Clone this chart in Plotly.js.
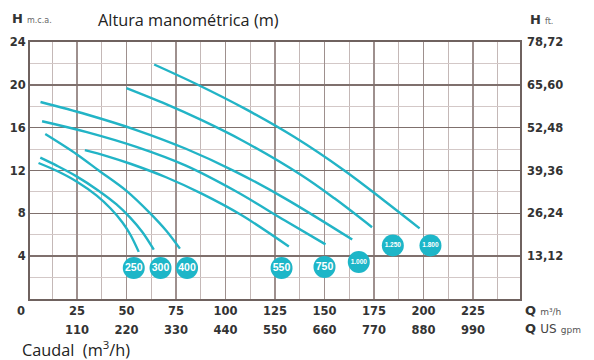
<!DOCTYPE html>
<html>
<head>
<meta charset="utf-8">
<script src="https://cdn.plot.ly/plotly-3.0.1.min.js"></script>
<style>html,body{margin:0;padding:0;background:#fff}#chart{width:594px;height:360px}</style>
</head>
<body>
<div id="chart"></div>
<script>
// Pump curves: flow Q (m3/h) vs head H (m.c.a.)
const q250 = [5.6, 15, 25, 35, 42, 48, 52, 56.2];
const h250 = [12.7, 11.95, 10.95, 9.65, 8.45, 7.15, 6.0, 4.4];
const q300 = [6.5, 15, 25, 35, 45, 52, 58, 63.8];
const h300 = [13.2, 12.43, 11.43, 10.23, 8.83, 7.57, 6.25, 4.6];
const q400 = [9, 25, 36, 50, 62, 70, 77];
const h400 = [15.4, 13.5, 12.0, 10.1, 8.0, 6.4, 4.7];
const q550 = [29, 40, 52, 70, 88, 108, 132];
const h550 = [13.9, 13.35, 12.63, 11.37, 9.84, 7.84, 4.9];
const q750 = [7.4, 30, 55, 80, 105, 130, 150.5];
const h750 = [16.6, 15.58, 14.2, 12.45, 10.08, 7.33, 5.1];
const q1000 = [6.6, 30, 55, 80, 105, 130, 164];
const h1000 = [18.4, 17.23, 15.78, 14.03, 11.9, 9.4, 5.55];
const q1250 = [50, 70, 88, 108, 138, 155, 174];
const h1250 = [19.7, 18.2, 16.7, 14.85, 11.6, 9.4, 6.7];
const q1800 = [64, 85, 110, 135, 160, 180, 198];
const h1800 = [21.9, 20.1, 17.75, 15.1, 12.0, 9.2, 6.6];

// Model badges
const badgeText = ['250', '300', '400', '550', '750', '1.000', '1.250', '1.800'];
const badgeQ = [53.7, 67.2, 80.6, 128.3, 150, 167.3, 184.5, 203.5];
const badgeH = [2.9, 2.9, 2.9, 2.9, 3.0, 3.46, 5.0, 5.0];

// Axis ticks
const qTicks = [25, 50, 75, 100, 125, 150, 175, 200, 225];
const qTickText = ['25', '50', '75', '100', '125', '150', '175', '200', '225'];
const gpmTicks = [25, 50, 75, 100, 125, 150, 175, 200, 225];
const gpmTickText = ['110', '220', '330', '440', '550', '660', '770', '880', '990'];
const hTicks = [4, 8, 12, 16, 20, 24];
const hTickText = ['4', '8', '12', '16', '20', '24'];
const ftTickText = ['13,12', '26,24', '39,36', '52,48', '65,60', '78,72'];

const LINE = '#22b4c6';
const BADGE = '#1db6c8';
const TXT = '#333333';
const tickFont = {family: 'DejaVu Sans', size: 11.5, color: TXT, weight: 'bold'};

const curves = [[q250,h250],[q300,h300],[q400,h400],[q550,h550],[q750,h750],[q1000,h1000],[q1250,h1250],[q1800,h1800]];
const traces = curves.map(([q,h]) => ({
  x: q, y: h, type: 'scatter', mode: 'lines',
  line: {color: LINE, width: 2.4, shape: 'spline', smoothing: 1},
  hoverinfo: 'skip', showlegend: false
}));

traces.push({
  x: badgeQ, y: badgeH, type: 'scatter', mode: 'markers+text',
  text: badgeText.map(t => '<b>' + t + '</b>'),
  textposition: 'middle center',
  textfont: {family: 'Liberation Sans', color: '#ffffff', size: badgeText.map(t => t.length > 3 ? 6.5 : 10.5)},
  marker: {size: 22, color: BADGE, line: {width: 0}},
  showlegend: false, hoverinfo: 'skip'
});
traces.push({x: [100], y: [-5], xaxis: 'x2', yaxis: 'y', type: 'scatter', mode: 'markers', marker: {opacity: 0}, showlegend: false, hoverinfo: 'skip'});
traces.push({x: [100], y: [-5], xaxis: 'x', yaxis: 'y2', type: 'scatter', mode: 'markers', marker: {opacity: 0}, showlegend: false, hoverinfo: 'skip'});

const XR = [1.3, 248.7];
const layout = {
  width: 594, height: 360,
  margin: {l: 30, r: 74, t: 42, b: 61, pad: 0},
  paper_bgcolor: '#ffffff', plot_bgcolor: '#ffffff',
  showlegend: false,
  xaxis: {
    range: XR, tickmode: 'array', tickvals: qTicks, ticktext: qTickText,
    tickfont: tickFont, ticks: '', showgrid: true, gridcolor: '#9e908e', gridwidth: 1.2,
    minor: {tickmode: 'array', tickvals: [12.5, 37.5, 62.5, 87.5, 112.5, 137.5, 162.5, 187.5, 212.5, 237.5], showgrid: true, gridcolor: '#c4b8b7', gridwidth: 1},
    showline: true, mirror: true, linecolor: '#6f625f', linewidth: 2,
    zeroline: false, fixedrange: true
  },
  xaxis2: {
    overlaying: 'x', anchor: 'y', side: 'bottom', range: XR,
    tickmode: 'array', tickvals: gpmTicks, ticktext: gpmTickText,
    tickfont: tickFont, ticks: '', showgrid: false, showline: false, zeroline: false,
    ticklabelstandoff: 22
  },
  yaxis: {
    range: [0, 24], tickmode: 'array', tickvals: hTicks, ticktext: hTickText,
    tickfont: tickFont, ticks: '', showgrid: true, gridcolor: '#7f706d', gridwidth: 1.6,
    minor: {tickmode: 'array', tickvals: [2, 6, 10, 14, 18, 22], showgrid: true, gridcolor: '#d3c8c7', gridwidth: 1},
    showline: true, mirror: true, linecolor: '#6f625f', linewidth: 2,
    zeroline: false, fixedrange: true
  },
  yaxis2: {
    overlaying: 'y', side: 'right', anchor: 'x', range: [0, 24],
    tickmode: 'array', tickvals: hTicks, ticktext: ftTickText,
    tickfont: tickFont, ticks: '', showgrid: false, showline: false, zeroline: false,
    ticklabelstandoff: 6
  },
  annotations: [
    {xref: 'paper', yref: 'paper', x: -0.041, y: 1.09, xanchor: 'left', yanchor: 'middle', showarrow: false,
     text: '<b>H</b> <span style="font-size:8px;color:#666">m.c.a.</span>', font: {family: 'DejaVu Sans', size: 13, color: TXT}},
    {xref: 'paper', yref: 'paper', x: 0.1347, y: 1.087, xanchor: 'left', yanchor: 'middle', showarrow: false,
     text: 'Altura manométrica (m)', font: {family: 'Open Sans', size: 16.3, color: '#222'}},
    {xref: 'paper', yref: 'paper', x: 1.016, y: 1.087, xanchor: 'left', yanchor: 'middle', showarrow: false,
     text: '<b>H</b> <span style="font-size:8px;color:#666">ft.</span>', font: {family: 'DejaVu Sans', size: 13, color: TXT}},
    {xref: 'paper', yref: 'paper', x: 1.006, y: -0.046, xanchor: 'left', yanchor: 'middle', showarrow: false,
     text: '<b>Q</b> <span style="font-size:9px;color:#555">m³/h</span>', font: {family: 'DejaVu Sans', size: 13, color: TXT}},
    {xref: 'paper', yref: 'paper', x: 1.006, y: -0.114, xanchor: 'left', yanchor: 'middle', showarrow: false,
     text: '<b>Q</b> <span style="font-size:12px;color:#444">US</span> <span style="font-size:9px;color:#555">gpm</span>', font: {family: 'DejaVu Sans', size: 13, color: TXT}},
    {xref: 'paper', yref: 'paper', x: -0.0204, y: -0.196, xanchor: 'left', yanchor: 'middle', showarrow: false,
     text: 'Caudal  (m<sup>3</sup>/h)', font: {family: 'Open Sans', size: 16.3, color: '#222'}},
    {xref: 'paper', yref: 'paper', x: -0.0184, y: -0.046, xanchor: 'center', yanchor: 'middle', showarrow: false,
     text: '<b>0</b>', font: {family: 'DejaVu Sans', size: 11.5, color: TXT}}
  ]
};

Plotly.newPlot('chart', traces, layout, {staticPlot: true, displayModeBar: false});
</script>
</body>
</html>
